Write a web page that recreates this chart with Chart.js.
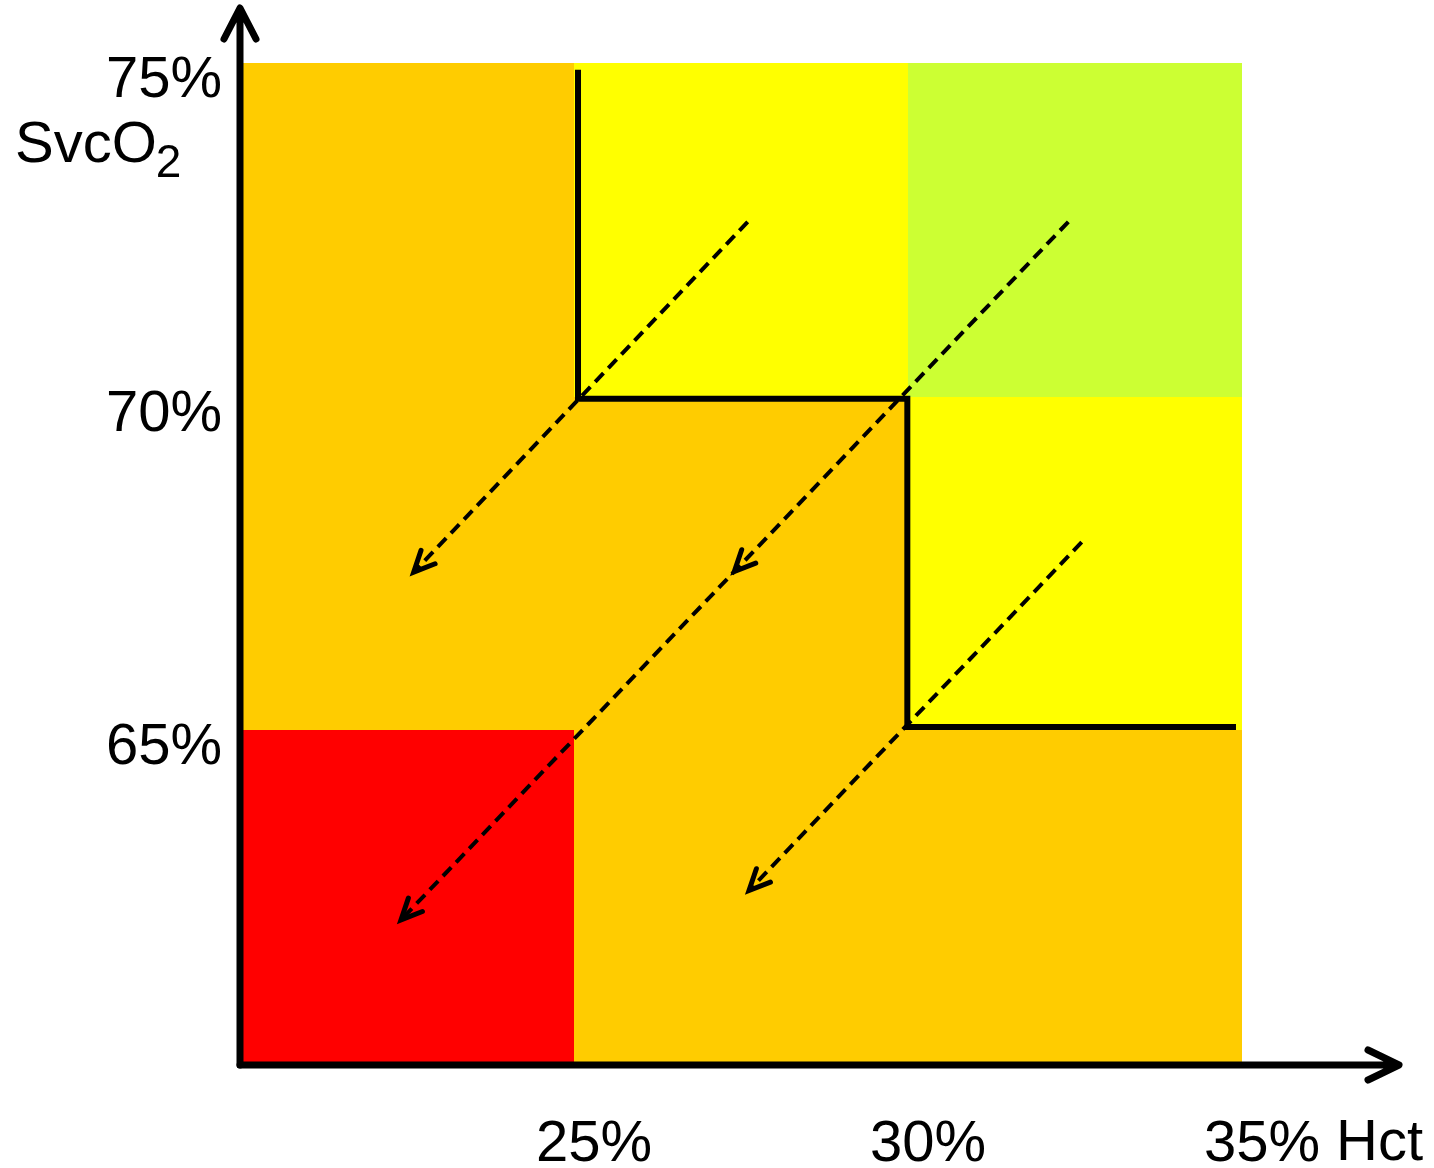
<!DOCTYPE html>
<html lang="en">
<head>
<meta charset="UTF-8">
<title>SvcO2 vs Hct</title>
<script src="https://cdn.jsdelivr.net/npm/chart.js@4"></script>
<style>
  body { margin: 0; background: #fff; }
  canvas { display: block; }
</style>
</head>
<body>
<canvas id="chart" width="1434" height="1168"></canvas>
<script>
// zone boundaries, in % (x = Hct, y = SvcO2)
const hctEdges = [20, 25, 30, 35];
const svcEdges = [60, 65, 70, 75];
// zone colours, rows from the top (70-75%) down to the bottom (60-65%)
const zoneColors = [
  ['#FFCC00', '#FFFF00', '#CCFF33'],
  ['#FFCC00', '#FFCC00', '#FFFF00'],
  ['#FF0000', '#FFCC00', '#FFCC00']
];
const xTickValues = [25, 30, 35];
const yTickValues = [65, 70, 75];

// stepped threshold line
const thresholdLine = [
  {x: 25.06, y: 74.9}, {x: 25.06, y: 69.97}, {x: 29.99, y: 69.97},
  {x: 29.99, y: 65.05}, {x: 34.91, y: 65.05}
];
// dashed arrows (an arrow head is drawn at every point after the first)
const arrowA = [{x: 27.6, y: 72.62}, {x: 22.6, y: 67.37}];
const arrowB = [{x: 32.4, y: 72.62}, {x: 27.4, y: 67.38}, {x: 22.41, y: 62.16}];
const arrowC = [{x: 32.6, y: 67.82}, {x: 27.62, y: 62.6}];

const FONT = '"Liberation Sans", Arial, sans-serif';

// coloured zones behind everything
const zonesPlugin = {
  id: 'zones',
  beforeDatasetsDraw(chart) {
    const {ctx, scales: {x, y}} = chart;
    ctx.save();
    zoneColors.forEach((row, r) => {
      const top = svcEdges[svcEdges.length - 1 - r];
      const bottom = svcEdges[svcEdges.length - 2 - r];
      row.forEach((color, c) => {
        // round the edges so neighbouring zones meet without a seam
        const x0 = Math.round(x.getPixelForValue(hctEdges[c]));
        const x1 = Math.round(x.getPixelForValue(hctEdges[c + 1]));
        const y0 = Math.round(y.getPixelForValue(top));
        const y1 = Math.round(y.getPixelForValue(bottom));
        ctx.fillStyle = color;
        ctx.fillRect(x0, y0, x1 - x0, y1 - y0);
      });
    });
    ctx.restore();
  }
};

// arrow heads, axis arrows and axis titles
const overlayPlugin = {
  id: 'overlay',
  afterDatasetsDraw(chart) {
    const {ctx, chartArea, scales: {x, y}} = chart;
    ctx.save();

    // open arrow heads on the dashed lines
    chart.data.datasets.forEach(ds => {
      if (!ds.arrowHeads) return;
      ctx.strokeStyle = '#000';
      ctx.lineWidth = 5;
      ctx.lineCap = 'round';
      ctx.lineJoin = 'miter';
      ctx.setLineDash([]);
      for (let i = 1; i < ds.data.length; i++) {
        const tx = x.getPixelForValue(ds.data[i].x);
        const ty = y.getPixelForValue(ds.data[i].y);
        const bx = x.getPixelForValue(ds.data[i - 1].x);
        const by = y.getPixelForValue(ds.data[i - 1].y);
        const ang = Math.atan2(by - ty, bx - tx);
        const len = 23, spread = 25 * Math.PI / 180;
        ctx.beginPath();
        ctx.moveTo(tx + len * Math.cos(ang - spread), ty + len * Math.sin(ang - spread));
        ctx.lineTo(tx, ty);
        ctx.lineTo(tx + len * Math.cos(ang + spread), ty + len * Math.sin(ang + spread));
        ctx.stroke();
      }
    });

    // axes with arrows
    const ax = chartArea.left, ay = chartArea.bottom + 1;
    ctx.strokeStyle = '#000';
    ctx.lineWidth = 7;
    ctx.lineCap = 'round';
    ctx.lineJoin = 'round';
    ctx.beginPath();
    ctx.moveTo(ax, ay);
    ctx.lineTo(ax, chartArea.top - 54);
    ctx.moveTo(ax - 16, chartArea.top - 24);
    ctx.lineTo(ax, chartArea.top - 55);
    ctx.lineTo(ax + 16, chartArea.top - 24);
    ctx.stroke();
    ctx.beginPath();
    ctx.moveTo(ax, ay);
    ctx.lineTo(chartArea.right + 156, ay);
    ctx.moveTo(chartArea.right + 126, ay - 15);
    ctx.lineTo(chartArea.right + 157, ay);
    ctx.lineTo(chartArea.right + 126, ay + 15);
    ctx.stroke();

    // axis titles
    ctx.fillStyle = '#000';
    ctx.textBaseline = 'alphabetic';
    ctx.textAlign = 'left';
    ctx.font = '58px ' + FONT;
    ctx.fillText('SvcO', 15, 162);
    const w = ctx.measureText('SvcO').width;
    ctx.font = '46px ' + FONT;
    ctx.fillText('2', 15 + w - 1, 177);
    ctx.font = '58px ' + FONT;
    ctx.fillText('Hct', chartArea.right + 94, 1160);

    ctx.restore();
  }
};

const lineStyle = {showLine: true, pointRadius: 0, borderColor: '#000', tension: 0};

new Chart(document.getElementById('chart'), {
  type: 'scatter',
  data: {
    datasets: [
      Object.assign({label: 'threshold', data: thresholdLine, borderWidth: 6,
        borderJoinStyle: 'miter', borderCapStyle: 'butt'}, lineStyle),
      Object.assign({label: 'A', data: arrowA, borderWidth: 4, borderDash: [12, 7], arrowHeads: true}, lineStyle),
      Object.assign({label: 'B', data: arrowB, borderWidth: 4, borderDash: [12, 7], arrowHeads: true}, lineStyle),
      Object.assign({label: 'C', data: arrowC, borderWidth: 4, borderDash: [12, 7], arrowHeads: true}, lineStyle)
    ]
  },
  options: {
    responsive: false,
    animation: false,
    devicePixelRatio: 1,
    layout: {padding: {top: 63, right: 192, left: 0, bottom: 0}},
    plugins: {legend: {display: false}, tooltip: {enabled: false}},
    scales: {
      x: {
        type: 'linear', min: 20, max: 35,
        grid: {display: false}, border: {display: false},
        afterBuildTicks: s => { s.ticks = xTickValues.map(v => ({value: v})); },
        afterFit: s => { s.height = 104; },
        ticks: {
          autoSkip: false, maxRotation: 0, padding: 38, labelOffset: 20,
          color: '#000', font: {family: FONT, size: 58},
          callback: v => v + '%'
        }
      },
      y: {
        type: 'linear', min: 60, max: 75,
        grid: {display: false}, border: {display: false},
        afterBuildTicks: s => { s.ticks = yTickValues.map(v => ({value: v})); },
        afterFit: s => { s.width = 240; },
        ticks: {
          autoSkip: false, padding: 10, labelOffset: 18,
          color: '#000', font: {family: FONT, size: 58},
          callback: v => v + '%'
        }
      }
    }
  },
  plugins: [zonesPlugin, overlayPlugin]
});
</script>
</body>
</html>
